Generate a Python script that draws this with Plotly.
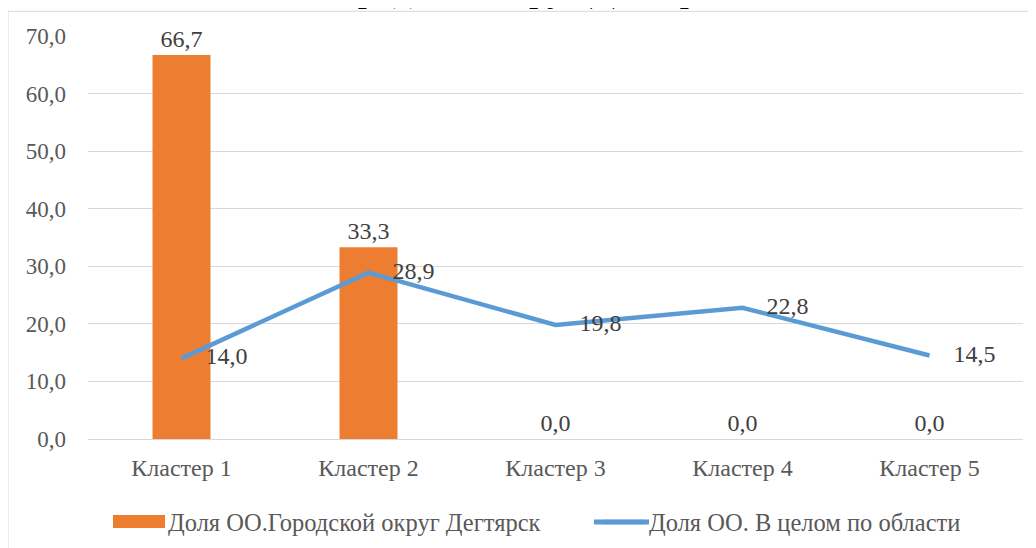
import plotly.graph_objects as go

categories = ["Кластер 1", "Кластер 2", "Кластер 3", "Кластер 4", "Кластер 5"]
bar_values = [66.7, 33.3, 0.0, 0.0, 0.0]
line_values = [14.0, 28.9, 19.8, 22.8, 14.5]
bar_name = "Доля ОО.Городской округ Дегтярск"
line_name = "Доля ОО. В целом по области"
title_text = "Городской округ Дегтярск"
y_ticks = [0, 10, 20, 30, 40, 50, 60, 70]

FONT = "Liberation Serif, Times New Roman, serif"
NB = "\u00a0"
W, H = 1036, 548
ML, MR, MT, MB = 80, 21, 28, 112
PW, PH = W - ML - MR, H - MT - MB
OX = 8  # page offset in the screenshot


def px_x(p):
    return (p - OX - ML) / PW


def px_y(p):
    return (H - MB - p) / PH


fig = go.Figure()
fig.add_trace(go.Bar(
    x=categories, y=bar_values, name=bar_name,
    marker=dict(color="#ED7D31", line=dict(width=0)),
    width=0.31,
    texttemplate="%{y:.1f}", textposition="outside",
    textfont=dict(family=FONT, size=24, color="#404040"),
    cliponaxis=False, legend="legend",
))
fig.add_trace(go.Scatter(
    x=categories, y=line_values, name=line_name, mode="lines+text",
    line=dict(color="#5B9BD5", width=4.5),
    texttemplate=NB * 4 + "%{y:.1f}", textposition="middle right",
    textfont=dict(family=FONT, size=24, color="#404040"),
    cliponaxis=False, legend="legend2",
))

leg_font = dict(family=FONT, size=24.5, color="#595959")
leg_y = px_y(520)
fig.update_layout(
    width=W, height=H,
    margin=dict(l=ML, r=MR, t=MT, b=MB),
    paper_bgcolor="white", plot_bgcolor="white",
    separators=", ",
    font=dict(family=FONT, size=24, color="#595959"),
    showlegend=True,
    legend=dict(x=px_x(118), xanchor="left", y=leg_y, yanchor="middle",
                font=leg_font, itemwidth=40, bgcolor="rgba(0,0,0,0)"),
    legend2=dict(x=px_x(599), xanchor="left", y=leg_y, yanchor="middle",
                 font=leg_font, itemwidth=40, bgcolor="rgba(0,0,0,0)"),
    bargap=0.69,
    shapes=[
        dict(type="rect", xref="paper", yref="paper",
             x0=px_x(8), x1=1.3, y0=-0.6, y1=px_y(3),
             line=dict(color="#D9D9D9", width=1), layer="below"),
        dict(type="rect", xref="paper", yref="paper",
             x0=px_x(113), x1=px_x(165), y0=px_y(526), y1=px_y(513),
             fillcolor="#ED7D31", line=dict(width=0), layer="above"),
        dict(type="line", xref="paper", yref="paper",
             x0=px_x(594), x1=px_x(649), y0=leg_y, y1=leg_y,
             line=dict(color="#5B9BD5", width=5), layer="above"),
    ],
    annotations=[dict(text=title_text, xref="paper", yref="paper",
                      x=px_x(527), y=px_y(3), xanchor="center", yanchor="bottom",
                      showarrow=False, font=dict(family=FONT, size=37, color="#000000"))],
)
fig.update_xaxes(showgrid=False, showline=False, ticks="", ticklabelstandoff=12,
                 automargin=False,
                 tickfont=dict(family=FONT, size=24, color="#595959"))
fig.update_yaxes(range=[0, 70], tickvals=y_ticks, tickformat=".1f",
                 showgrid=True, gridcolor="#D9D9D9", gridwidth=1,
                 zeroline=True, zerolinecolor="#D9D9D9", zerolinewidth=1,
                 showline=False, ticks="", ticklabelstandoff=21, automargin=False,
                 tickfont=dict(family=FONT, size=23, color="#595959"))

fig.write_html("out.html")
